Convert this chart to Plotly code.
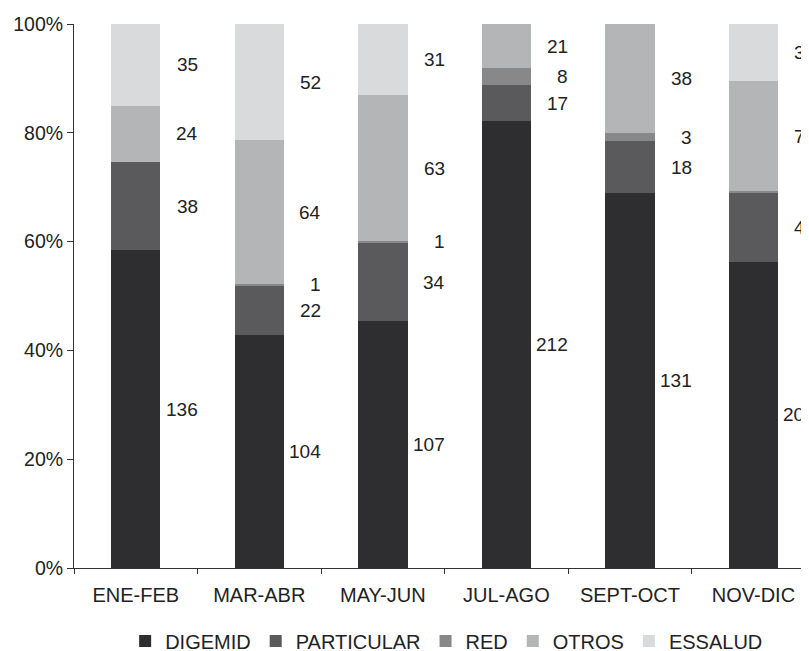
import plotly.graph_objects as go

categories = ["ENE-FEB", "MAR-ABR", "MAY-JUN", "JUL-AGO", "SEPT-OCT", "NOV-DIC"]
digemid = [136, 104, 107, 212, 131, 209]
particular = [38, 22, 34, 17, 18, 47]
red = [0, 1, 1, 8, 3, 1]
otros = [24, 64, 63, 21, 38, 75]
essalud = [35, 52, 31, 0, 0, 39]
series_names = ["DIGEMID", "PARTICULAR", "RED", "OTROS", "ESSALUD"]
y_ticks = [0, 20, 40, 60, 80, 100]

series_values = [digemid, particular, red, otros, essalud]
colors = ["#2e2e30", "#5a5a5c", "#888889", "#b4b5b7", "#d9dadc"]

FONT = "Liberation Sans, Arial, sans-serif"
fig = go.Figure()
for name, vals, col in zip(series_names, series_values, colors):
    fig.add_trace(go.Bar(
        x=categories, y=vals, name=name,
        marker=dict(color=col, line=dict(width=0)),
        width=0.4,
    ))

# data labels to the right of each segment
totals = [sum(v[i] for v in series_values) for i in range(len(categories))]
annotations = []
for i, cat in enumerate(categories):
    cum = 0
    for vals in series_values:
        v = vals[i]
        if v > 0:
            mid = (cum + v / 2) / totals[i] * 100
            annotations.append(dict(
                x=cat, y=mid, xref="x", yref="y", text=str(v),
                showarrow=False, xanchor="right", yanchor="middle",
                xshift=64, font=dict(family=FONT, size=19, color="#222222"),
            ))
        cum += v

# page body has an 8px margin, so the figure is sized/offset to compensate
fig.update_layout(
    barmode="stack", barnorm="percent",
    width=801, height=643,
    margin=dict(l=66, r=0, t=16, b=83, autoexpand=False),
    paper_bgcolor="white", plot_bgcolor="white",
    font=dict(family=FONT, size=19, color="#222222"),
    showlegend=True,
    legend=dict(
        orientation="h", x=0.507, xanchor="center", y=-0.134, yanchor="middle",
        font=dict(family=FONT, size=20, color="#222222"),
        traceorder="normal", itemclick=False,
    ),
    annotations=annotations,
    bargap=0.6,
)
fig.update_xaxes(
    type="category", range=[-0.5, 5.45],
    showline=True, linecolor="#333333", linewidth=1,
    ticks="outside", tickson="boundaries", ticklen=5, tickcolor="#333333",
    ticklabelstandoff=9,
    showgrid=False, zeroline=False,
    tickfont=dict(family=FONT, size=20, color="#222222"),
)
fig.update_yaxes(
    range=[0, 100], tickvals=y_ticks, ticktext=[f"{t}%" for t in y_ticks],
    showline=True, linecolor="#333333", linewidth=1,
    ticks="outside", ticklen=6, tickcolor="#333333",
    showgrid=False, zeroline=False,
    tickfont=dict(family=FONT, size=19.5, color="#222222"),
)
fig.write_html("out.html")
